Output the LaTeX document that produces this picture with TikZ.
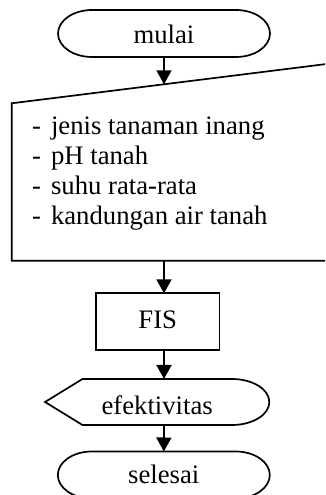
\documentclass[tikz,border=0pt]{standalone}
\usepackage{fontspec}
\setmainfont{Liberation Serif}
\usetikzlibrary{arrows.meta}

\begin{document}
\begin{tikzpicture}[x=1pt, y=1pt, line width=1.7pt,
    font=\fontsize{26.7}{30}\selectfont,
    terminal/.style={minimum width=212pt, minimum height=47pt, inner sep=0pt, outer sep=0pt, text depth=0pt},
    process/.style={rectangle, draw, minimum width=123.3pt, minimum height=56.7pt, inner sep=0pt, outer sep=0pt, text height=13.2pt, text depth=0pt},
    display/.style={minimum width=224.3pt, minimum height=46pt, inner sep=0pt, outer sep=0pt, text height=26pt, text depth=0pt},
    flow/.style={-{Triangle[width=15pt, length=14pt]}}]
  \useasboundingbox (0, 0) rectangle (325, 495);
  \clip (0, 0) rectangle (325, 495);

  \node (mulai) [terminal, text height=19.6pt] at (164, 461.5) {mulai};
  \draw ([xshift=34pt]mulai.north west) -- ([xshift=-34pt]mulai.north east)
    arc[start angle=90, end angle=-90, x radius=34pt, y radius=23.5pt]
    -- ([xshift=34pt]mulai.south west)
    arc[start angle=270, end angle=90, x radius=34pt, y radius=23.5pt] -- cycle;

  % manual input
  \coordinate (inTL) at (11.7, 391.7);
  \coordinate (inTR) at (327, 431.05);
  \coordinate (inBR) at (327, 234.3);
  \coordinate (inBL) at (11.7, 234.3);
  \draw (inTL) -- (inTR) -- (inBR) -- (inBL) -- cycle;
  \node (params) [anchor=base west, inner sep=0pt] at (31.3, 360) {
    \begin{tabular}[t]{@{}l@{\hspace{10pt}}l@{}}
      - & jenis tanaman inang \\
      - & pH tanah \\
      - & suhu rata-rata \\
      - & kandungan air tanah
    \end{tabular}
  };

  \node (fis) [process] at (157.7, 173.3) {FIS};

  % display
  \node (output) [display] at (157.2, 93) {efektivitas};
  \draw (output.west) -- ([xshift=37.4pt]output.north west) -- ([xshift=-37.4pt]output.north east)
    arc[start angle=90, end angle=-90, x radius=37.4pt, y radius=23pt]
    -- ([xshift=37.4pt]output.south west) -- cycle;

  \node (selesai) [terminal, text height=16.6pt] at (163.8, 20) {selesai};
  \draw ([xshift=34pt]selesai.north west) -- ([xshift=-34pt]selesai.north east)
    arc[start angle=90, end angle=-90, x radius=34pt, y radius=23.5pt]
    -- ([xshift=34pt]selesai.south west)
    arc[start angle=270, end angle=90, x radius=34pt, y radius=23.5pt] -- cycle;

  \draw[flow] (mulai.south) -- (intersection of mulai.north--mulai.south and inTL--inTR);
  \draw[flow] (inBL -| mulai) -- (fis.north -| mulai);
  \draw[flow] (fis.south -| mulai) -- (output.north -| mulai);
  \draw[flow] (output.south -| mulai) -- (selesai.north);
\end{tikzpicture}
\end{document}
